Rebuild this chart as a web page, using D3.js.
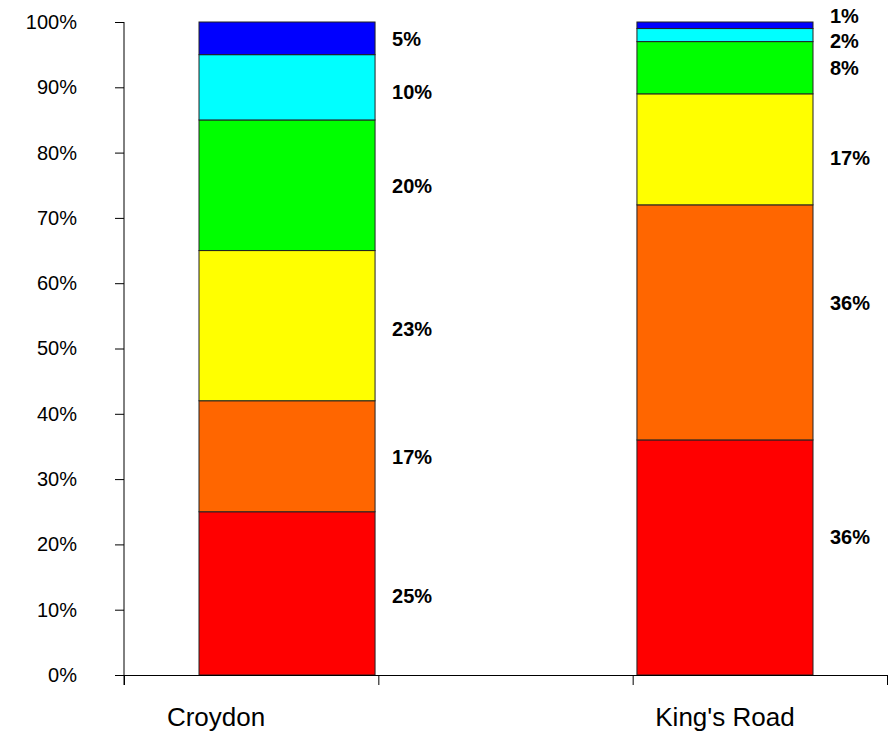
<!DOCTYPE html>
<html>
<head>
<meta charset="utf-8">
<script src="https://cdn.jsdelivr.net/npm/d3@7"></script>
<style>
  html, body { margin: 0; padding: 0; background: #fff; }
  svg { display: block; font-family: "Liberation Sans", Arial, sans-serif; }
</style>
</head>
<body>
<svg id="chart" width="893" height="732"></svg>
<script>
// Locations shown as stacked 100% columns
const categories = ["Croydon", "King's Road"];

// Share of each band, bottom to top (percent)
const bandNames = ["band1", "band2", "band3", "band4", "band5", "band6"];
const croydonValues = [25, 17, 23, 20, 10, 5];
const kingsRoadValues = [36, 36, 17, 8, 2, 1];
const bandColors = ["#ff0000", "#ff6600", "#ffff00", "#00ff00", "#00ffff", "#0000ff"];

// Y axis tick values and labels
const yTickValues = [0, 10, 20, 30, 40, 50, 60, 70, 80, 90, 100];
const yTickLabels = yTickValues.map(v => v + "%");

const seriesByCategory = [croydonValues, kingsRoadValues];

const svg = d3.select("#chart");

// Plot frame
const plot = { left: 124, right: 887, top: 22, bottom: 675 };

const y = d3.scaleLinear().domain([0, 100]).range([plot.bottom, plot.top]);

// Column placement
const x = d3.scaleBand()
  .domain(categories)
  .range([199, 813])
  .paddingInner(0.598)
  .paddingOuter(0);

// Category axis divisions (tick marks between slots)
const xDiv = d3.scaleLinear().domain([0, 3]).range([plot.left, plot.right]);

// Stack the rows
const rows = categories.map((c, i) => {
  const r = { category: c };
  bandNames.forEach((b, j) => { r[b] = seriesByCategory[i][j]; });
  return r;
});
const stacked = d3.stack().keys(bandNames)(rows);

// Bars
const layers = svg.append("g")
  .selectAll("g")
  .data(stacked)
  .join("g")
  .attr("fill", (d, i) => bandColors[i]);

layers.selectAll("rect")
  .data(d => d)
  .join("rect")
  .attr("x", d => x(d.data.category))
  .attr("width", x.bandwidth())
  .attr("y", d => y(d[1]))
  .attr("height", d => y(d[0]) - y(d[1]))
  .attr("stroke", "#222")
  .attr("stroke-width", 1);

// Value labels to the right of each column
const labelNudge = [
  [2, 1, 3, 1, 4, 0],
  [-21, -20, 8, 0, 6, -9]
];
stacked.forEach((layer, j) => {
  layer.forEach((d, i) => {
    const v = seriesByCategory[i][j];
    svg.append("text")
      .attr("x", x(d.data.category) + x.bandwidth() + 17)
      .attr("y", (y(d[0]) + y(d[1])) / 2 + labelNudge[i][j])
      .attr("dy", "0.36em")
      .attr("font-size", 20)
      .attr("font-weight", "bold")
      .attr("fill", "#000")
      .text(v + "%");
  });
});

// Y axis
const yAxis = d3.axisLeft(y)
  .tickValues(yTickValues)
  .tickFormat((d, i) => yTickLabels[i])
  .tickSize(9)
  .tickPadding(38);

const gy = svg.append("g")
  .attr("transform", `translate(${plot.left},0)`)
  .call(yAxis);
gy.select(".domain").attr("stroke", "#000").attr("d", `M0,${plot.bottom + 10}V${plot.top}`);
gy.selectAll(".tick line").attr("stroke", "#000");
gy.selectAll(".tick text")
  .attr("font-size", 20)
  .attr("font-family", "'Liberation Sans', Arial, sans-serif")
  .attr("fill", "#000");

// X axis
const xAxis = d3.axisBottom(xDiv)
  .tickValues([0, 1, 2, 3])
  .tickFormat("")
  .tickSize(10)
  .tickSizeOuter(0);

const gx = svg.append("g")
  .attr("transform", `translate(0,${plot.bottom})`)
  .call(xAxis);
gx.select(".domain").attr("stroke", "#000");
gx.selectAll(".tick line").attr("stroke", "#000");

// Category labels
const catNudge = [-71, 0];
svg.append("g")
  .selectAll("text")
  .data(categories)
  .join("text")
  .attr("x", (d, i) => x(d) + x.bandwidth() / 2 + catNudge[i])
  .attr("y", 726)
  .attr("text-anchor", "middle")
  .attr("font-size", 26)
  .attr("fill", "#000")
  .text(d => d);
</script>
</body>
</html>
